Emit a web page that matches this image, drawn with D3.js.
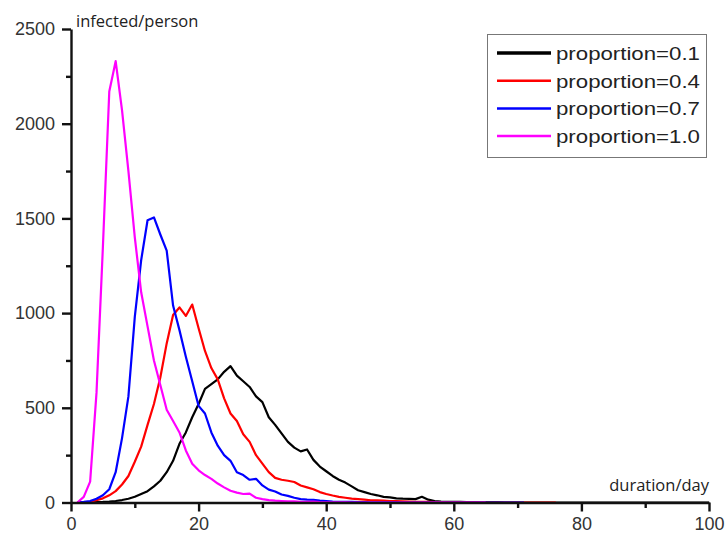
<!DOCTYPE html>
<html>
<head>
<meta charset="utf-8">
<script src="https://cdn.jsdelivr.net/npm/d3@7"></script>
<style>
  body { margin: 0; background: #fff; }
  svg { display: block; }
</style>
</head>
<body>
<div id="container"></div>
<script>
/* CONSTANTS AND GLOBALS */
const width = 725,
  height = 533;

// series values, one per day starting at day 1
const black = [0, 0, 1, 2, 3, 5, 8, 13, 20, 30,
  45, 60, 85, 115, 160, 220, 310, 370, 450, 520,
  600, 625, 650, 690, 720, 670, 640, 610, 560, 530,
  450, 410, 365, 320, 290, 270, 280, 225, 190, 165,
  140, 120, 105, 85, 65, 55, 45, 38, 30, 27,
  22, 20, 19, 18, 30, 15, 8, 5, 4, 3,
  3, 2, 2, 1, 1, 1, 1, 0, 0, 0,
  0, 0, 0, 0, 0, 0, 0, 0, 0, 0,
  0, 0, 0, 0, 0, 0, 0, 0, 0, 0,
  0, 0, 0, 0, 0, 0, 0, 0, 0, 0];

const red = [0, 2, 4, 12, 22, 38, 60, 95, 140, 215,
  295, 410, 520, 660, 840, 990, 1030, 985, 1045, 920,
  800, 710, 650, 550, 470, 430, 360, 320, 250, 205,
  160, 130, 120, 115, 108, 90, 80, 70, 55, 45,
  37, 30, 25, 20, 18, 15, 12, 11, 10, 8,
  7, 6, 5, 4, 3, 3, 2, 2, 1, 1,
  1, 1, 1, 0, 0, 0, 0, 0, 0, 0,
  0, 0, 0, 0, 0, 0];

const blue = [0, 3, 8, 20, 38, 70, 160, 340, 560, 980,
  1280, 1490, 1505, 1415, 1330, 1040, 910, 770, 640, 510,
  470, 370, 300, 250, 220, 160, 145, 120, 125, 90,
  68, 58, 42, 35, 25, 18, 15, 14, 10, 8,
  5, 4, 3, 3, 2, 2, 1, 1, 1, 1,
  1, 0, 0, 0, 0, 0, 0, 0, 0, 0,
  0, 0, 0, 0, 0, 0, 0, 0, 0, 0,
  0];

const magenta = [0, 30, 110, 580, 1350, 2170, 2330, 2070, 1750, 1400,
  1110, 930, 750, 620, 490, 430, 370, 275, 205, 170,
  145, 125, 100, 80, 62, 52, 45, 47, 25, 18,
  13, 10, 8, 6, 6, 4, 3, 5, 2, 1,
  1, 1, 1, 0, 0, 0, 0, 0, 0, 0,
  0, 0, 0, 0, 0, 0, 0, 0, 0, 0,
  0, 0, 0, 0, 0];

const seriesNames = ["proportion=0.1", "proportion=0.4", "proportion=0.7", "proportion=1.0"];
const seriesColors = ["#000000", "#ff0000", "#0000ff", "#ff00ff"];
const seriesValues = [black, red, blue, magenta];

const xTicks = [0, 20, 40, 60, 80, 100];
const xMinorTicks = [10, 30, 50, 70, 90];
const yTicks = [0, 500, 1000, 1500, 2000, 2500];
const yMinorTicks = [250, 750, 1250, 1750, 2250];

/* SCALES */
const xScale = d3.scaleLinear().domain([0, 100]).range([71, 709]);
const yScale = d3.scaleLinear().domain([0, 2500]).range([502.5, 29]);

const svg = d3.select("#container")
  .append("svg")
  .attr("width", width)
  .attr("height", height);

/* LINES */
const line = d3.line()
  .x((d, i) => xScale(i + 1))
  .y(d => yScale(d));

svg.selectAll("path.series")
  .data(seriesValues)
  .join("path")
  .attr("class", "series")
  .attr("d", d => line(d))
  .attr("fill", "none")
  .attr("stroke", (d, i) => seriesColors[i])
  .attr("stroke-width", 2.2)
  .attr("stroke-linejoin", "round");

/* AXES */
const tickFont = "'Liberation Sans', Arial, sans-serif";

// minor ticks first, then the labelled axis on top
svg.append("g")
  .attr("transform", `translate(0, ${yScale(0)})`)
  .call(d3.axisBottom(xScale).tickValues(xMinorTicks).tickSize(5.5).tickFormat(""))
  .call(g => g.select(".domain").remove());

svg.append("g")
  .attr("transform", `translate(${xScale(0)}, 0)`)
  .call(d3.axisLeft(yScale).tickValues(yMinorTicks).tickSize(5).tickFormat(""))
  .call(g => g.select(".domain").remove());

const xAxisGroup = svg.append("g")
  .attr("class", "xAxis")
  .attr("transform", `translate(0, ${yScale(0)})`)
  .call(d3.axisBottom(xScale).tickValues(xTicks).tickFormat(d3.format("d"))
    .tickSize(9).tickSizeOuter(0).tickPadding(6));

const yAxisGroup = svg.append("g")
  .attr("class", "yAxis")
  .attr("transform", `translate(${xScale(0)}, 0)`)
  .call(d3.axisLeft(yScale).tickValues(yTicks).tickFormat(d3.format("d"))
    .tickSize(9).tickSizeOuter(0).tickPadding(7));

svg.selectAll(".tick line, .domain")
  .attr("stroke", "#111")
  .attr("stroke-width", 2.4);

svg.selectAll(".tick text")
  .attr("font-family", tickFont)
  .attr("font-size", 18)
  .attr("fill", "#333");

/* AXIS TITLES */
svg.append("text")
  .attr("x", 76)
  .attr("y", 27)
  .attr("font-family", "'Open Sans', sans-serif")
  .attr("font-size", 16.5)
  .attr("fill", "#222")
  .text("infected/person");

svg.append("text")
  .attr("x", 709)
  .attr("y", 491)
  .attr("text-anchor", "end")
  .attr("font-family", "'Open Sans', sans-serif")
  .attr("font-size", 16.5)
  .attr("fill", "#222")
  .text("duration/day");

/* LEGEND */
const legend = svg.append("g").attr("class", "legend");

legend.append("rect")
  .attr("x", 487.5)
  .attr("y", 34.5)
  .attr("width", 219)
  .attr("height", 123)
  .attr("fill", "#fff")
  .attr("stroke", "#777")
  .attr("stroke-width", 1);

const rows = legend.selectAll("g.row")
  .data(seriesNames)
  .join("g")
  .attr("class", "row")
  .attr("transform", (d, i) => `translate(0, ${53 + i * 27.7})`);

rows.append("line")
  .attr("x1", 497)
  .attr("x2", 551)
  .attr("stroke", (d, i) => seriesColors[i])
  .attr("stroke-width", (d, i) => i === 0 ? 3.5 : 2.5);

rows.append("text")
  .attr("x", 556)
  .attr("y", 7)
  .attr("font-family", tickFont)
  .attr("font-size", 19)
  .attr("fill", "#222")
  .attr("textLength", 144)
  .attr("lengthAdjust", "spacingAndGlyphs")
  .text(d => d);
</script>
</body>
</html>
